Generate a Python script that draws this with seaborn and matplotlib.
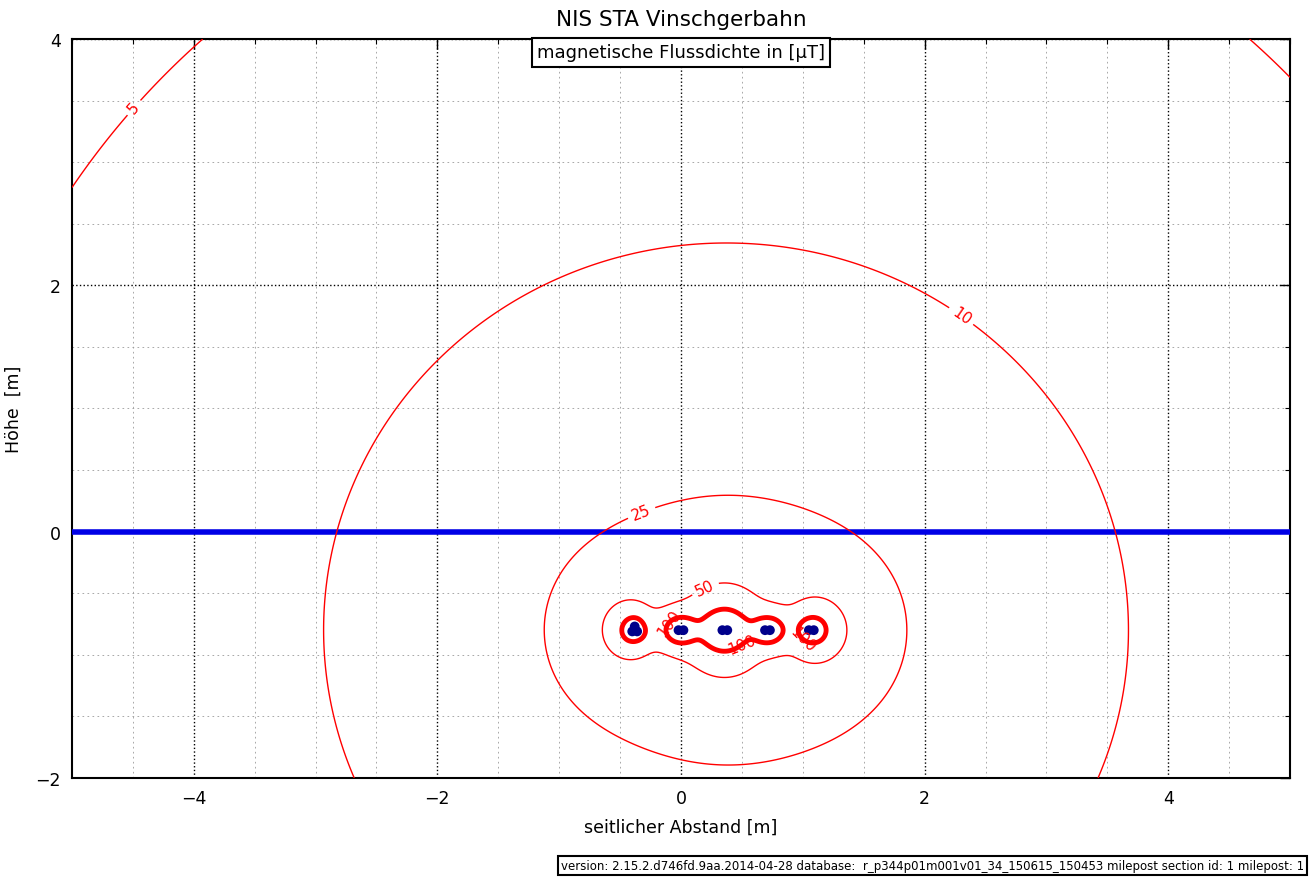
import numpy as np
import matplotlib
matplotlib.use('Agg')
import matplotlib.pyplot as plt
import seaborn as sns
import pandas as pd
from matplotlib.ticker import MultipleLocator

# Kabel im Graben: Lage [m], Strom [A] und Phasenlage [Grad]
cable_x = [-0.40, -0.36, -0.38, -0.02, 0.02, 0.34, 0.38, 0.69, 0.73, 1.05, 1.09]
cable_y = [-0.81, -0.81, -0.77, -0.80, -0.80, -0.80, -0.80, -0.80, -0.80, -0.80, -0.80]
cable_i = [15, 15, 15, 27.5, 27.5, 45, 45, 27.5, 27.5, 25, 25]
cable_phase = [0, 0, 0, 120, 120, 0, 0, 120, 120, 0, 0]

levels = [5, 10, 25, 50]
levels_high = [100]
label_pos = [(-4.5, 3.45), (2.3, 1.75), (-0.35, 0.22), (0.17, -0.4)]
label_pos_100 = [(-0.15, -0.7), (0.5, -0.92), (0.95, -0.92)]

ground_y = 0.0
title = 'NIS STA Vinschgerbahn'
subtitle = 'magnetische Flussdichte in [µT]'
footer = ('version: 2.15.2.d746fd.9aa.2014-04-28 database:  '
          'r_p344p01m001v01_34_150615_150453 milepost section id: 1 milepost: 1')

sns.set_style('white')
plt.rcParams['font.family'] = ['DejaVu Sans']
plt.rcParams['text.color'] = 'black'
plt.rcParams['axes.labelcolor'] = 'black'

df = pd.DataFrame({'x': cable_x, 'y': cable_y, 'i': cable_i, 'phi': cable_phase})

# Flussdichte (Effektivwert) auf dem Rechenraster, mu0/2pi = 0.2 uT*m/A
gx = np.linspace(-5, 5, 801)
gy = np.linspace(-2, 4, 481)
X, Y = np.meshgrid(gx, gy)
bx = np.zeros(X.shape, dtype=complex)
by = np.zeros(X.shape, dtype=complex)
for _, c in df.iterrows():
    cur = c['i'] * np.exp(1j * np.deg2rad(c['phi']))
    dx = X - c['x']
    dy = Y - c['y']
    r2 = dx ** 2 + dy ** 2 + 1e-6
    bx += -0.2 * cur * dy / r2
    by += 0.2 * cur * dx / r2
B = np.sqrt(np.abs(bx) ** 2 + np.abs(by) ** 2)

fig = plt.figure(figsize=(13.13, 8.78), dpi=100)
ax = fig.add_axes([0.0548, 0.1128, 0.9277, 0.8416])

ax.axhline(ground_y, color='#0000e6', lw=4, zorder=3)

cs = ax.contour(X, Y, B, levels=levels, colors='red', linewidths=1.0, zorder=4)
ax.clabel(cs, fmt='%d', fontsize=11, inline=True, manual=label_pos)
cs_high = ax.contour(X, Y, B, levels=levels_high, colors='red', linewidths=3.5, zorder=4)
ax.clabel(cs_high, fmt='%d', fontsize=11, inline=False, manual=label_pos_100)

sns.scatterplot(data=df, x='x', y='y', ax=ax, color='#00008b', s=50,
                edgecolor='none', zorder=5, legend=False)

ax.set_xlim(-5, 5)
ax.set_ylim(-2, 4)
ax.xaxis.set_major_locator(MultipleLocator(2))
ax.xaxis.set_minor_locator(MultipleLocator(0.5))
ax.yaxis.set_major_locator(MultipleLocator(2))
ax.yaxis.set_minor_locator(MultipleLocator(0.5))
ax.tick_params(which='both', direction='in', top=True, right=True, colors='black')
ax.tick_params(which='major', length=7, width=1, labelsize=12.5, pad=8)
ax.tick_params(which='minor', length=3.5, width=0.8)
ax.grid(which='major', ls=':', color='black', lw=1.0)
ax.grid(which='minor', ls=(0, (2, 4)), color='#9a9a9a', lw=0.6)
for s in ax.spines.values():
    s.set_visible(True)
    s.set_color('black')
    s.set_linewidth(1.5)

ax.set_title(title, fontsize=15.5, pad=10)
ax.set_xlabel('seitlicher Abstand [m]', fontsize=12.5, labelpad=8)
ax.set_ylabel('Höhe  [m]', fontsize=12.5, labelpad=9)
ax.text(0.5, 0.994, subtitle, transform=ax.transAxes, ha='center', va='top',
        fontsize=13, zorder=6,
        bbox=dict(boxstyle='square,pad=0.3', fc='white', ec='black', lw=1.5))

fig.text(0.9935, 0.006, footer, ha='right', va='bottom', fontsize=8.5,
         bbox=dict(boxstyle='square,pad=0.25', fc='white', ec='black', lw=1.5))

fig.savefig('out.png', dpi=100)
